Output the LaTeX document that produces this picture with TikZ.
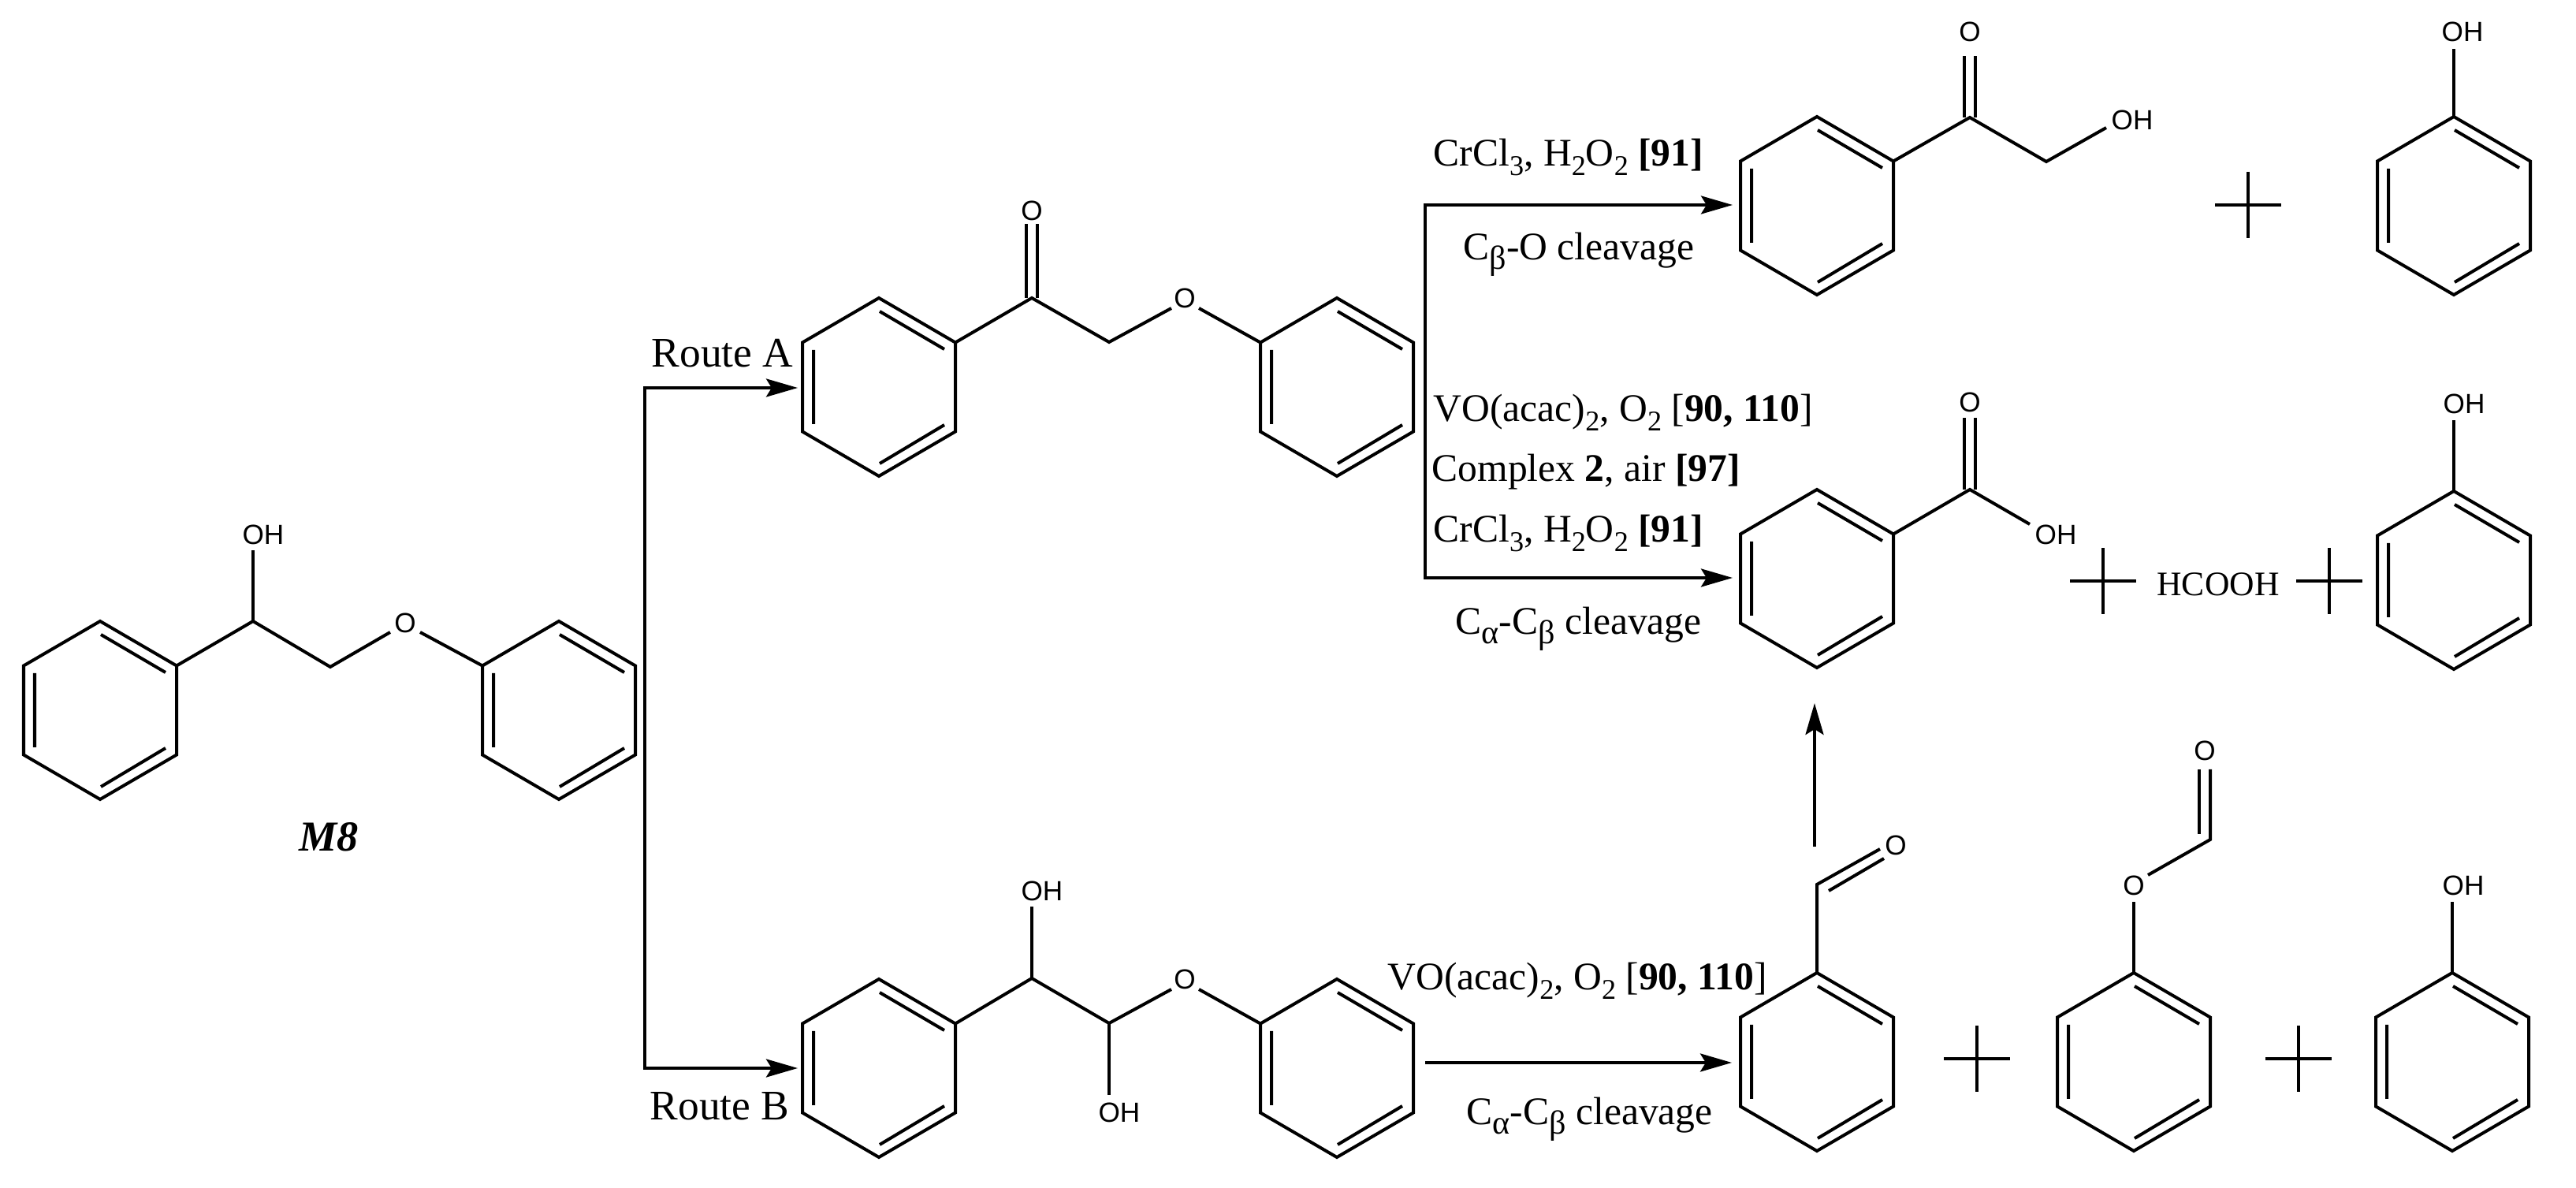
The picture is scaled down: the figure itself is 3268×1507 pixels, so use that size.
\documentclass[tikz,border=0pt]{standalone}
\usepackage{fontspec}
\setmainfont{Liberation Serif}
\setsansfont{Liberation Sans}
\usetikzlibrary{arrows.meta,calc}
\newcommand{\sbs}[1]{\raisebox{-0.24em}{\fontsize{10.3}{10}\selectfont #1}}
\newcommand{\sbg}[1]{\raisebox{-0.24em}{\fontsize{12}{10}\selectfont #1}}
\newcommand{\ringat}[3]{%
  \begin{scope}[shift={(#2,#3)}]
    \coordinate (#1t) at (0,-113);
    \coordinate (#1ur) at (97,-56.5);
    \coordinate (#1lr) at (97,56.5);
    \coordinate (#1b) at (0,113);
    \coordinate (#1ll) at (-97,56.5);
    \coordinate (#1ul) at (-97,-56.5);
    \draw[bond] (#1t) -- (#1ur) -- (#1lr) -- (#1b) -- (#1ll) -- (#1ul) -- cycle;
    \draw[bond] (1,-96) -- (83,-48) (83,48) -- (1,97) (-83,-47) -- (-83,47);
  \end{scope}}
\tikzset{
  x=0.01cm,y=-0.01cm,
  bond/.style={line width=0.04cm,line join=miter,line cap=butt,black},
  flow/.style={line width=0.037cm,black,-{Stealth[length=0.4cm,width=0.23cm,inset=0.07cm]}},
  plusline/.style={line width=0.034cm,black},
  atom/.style={font=\sffamily\fontsize{10}{12}\selectfont,inner sep=0pt,anchor=center},
  rxn/.style={font=\rmfamily\fontsize{14.1}{16}\selectfont,inner sep=0pt,anchor=base west},
  routetext/.style={rxn,font=\rmfamily\fontsize{15.2}{17}\selectfont},
}
\begin{document}
\begin{tikzpicture}
\useasboundingbox (0,0) rectangle (3268,1507);
\fill[white] (0,0) rectangle (3268,1507);

% --- M8
\ringat{ma}{127}{901}
\ringat{mb}{709}{901}
\coordinate (mch) at (321,788);
\coordinate (mcc) at (419,846);
\node[atom] (moh) at (334,678) {OH};
\node[atom] (mo) at (514,790) {O};
\coordinate (moL) at (495,802);
\coordinate (moR) at (533,802);
\coordinate (mohB) at (321,698);
\draw[bond] (maur) -- (mch) -- (mcc) -- (moL);
\draw[bond] (moR) -- (mbul);
\draw[bond] (mch) -- (mohB);
\node[rxn,font=\rmfamily\bfseries\itshape\fontsize{15.4}{17}\selectfont,anchor=center] (m8) at (417,1062) {M8};

% --- Route lines
\coordinate (ra) at (818,492);
\coordinate (rb) at (818,1355);
\coordinate (raEnd) at (1012,492);
\coordinate (rbEnd) at (1012,1355);
\draw[flow] (ra) -- (raEnd);
\draw[flow] (rb) -- (rbEnd);
\draw[line width=0.037cm,line cap=rect] (ra) -- (rb);
\node[routetext] (routeA) at (826,466) {Route A};
\node[routetext] (routeB) at (824,1421) {Route B};

% --- Route A ketone
\ringat{ka}{1115}{491}
\ringat{kb}{1696}{491}
\coordinate (kc) at (1309,378);
\coordinate (kcc) at (1407,434);
\node[atom] (ko) at (1503,378) {O};
\node[atom] (koo) at (1309,267) {O};
\coordinate (koL) at (1486,391);
\coordinate (koR) at (1521,391);
\draw[bond] (kaur) -- (kc) -- (kcc) -- (koL);
\draw[bond] (koR) -- (kbul);
\draw[bond] ($(kc)+(-7,0)$) -- ++(0,-94);
\draw[bond] ($(kc)+(7,0)$) -- ++(0,-94);

% --- Route B diol
\ringat{da}{1115}{1355}
\ringat{db}{1696}{1355}
\coordinate (dc) at (1309,1241);
\coordinate (dd) at (1407,1298);
\node[atom] (doh) at (1322,1130) {OH};
\node[atom] (dohb) at (1420,1411) {OH};
\node[atom] (do) at (1503,1242) {O};
\coordinate (doL) at (1486,1255);
\coordinate (doR) at (1521,1255);
\draw[bond] (daur) -- (dc) -- (dd) -- (doL);
\draw[bond] (doR) -- (dbul);
\draw[bond] (dc) -- (1309,1150);
\draw[bond] (dd) -- (1407,1389);

% --- Branch arrows
\coordinate (bTop) at (1808,260);
\coordinate (bBot) at (1808,733);
\coordinate (bTopEnd) at (2198,260);
\coordinate (bBotEnd) at (2198,733);
\draw[line width=0.037cm,line cap=rect] (bTop) -- (bBot);
\draw[flow] (bTop) -- (bTopEnd);
\draw[flow] (bBot) -- (bBotEnd);
\coordinate (lowS) at (1808,1348);
\coordinate (lowE) at (2197,1348);
\draw[flow] (lowS) -- (lowE);
\coordinate (upS) at (2302,1074);
\coordinate (upE) at (2302,892);
\draw[flow] (upS) -- (upE);

% --- Labels
\node[rxn] (t1) at (1818,211) {CrCl\sbs{3}, H\sbs{2}O\sbs{2} \textbf{[91]}};
\node[rxn] (t2) at (1856,330) {C\sbg{β}-O cleavage};
\node[rxn] (t3) at (1818,535) {VO(acac)\sbs{2}, O\sbs{2} [\textbf{90, 110}]};
\node[rxn] (t4) at (1816,611) {Complex \textbf{2}, air \textbf{[97]}};
\node[rxn] (t5) at (1818,688) {CrCl\sbs{3}, H\sbs{2}O\sbs{2} \textbf{[91]}};
\node[rxn] (t6) at (1846,805) {C\sbg{α}-C\sbg{β} cleavage};
\node[rxn] (t7) at (1760,1256) {VO(acac)\sbs{2}, O\sbs{2} [\textbf{90, 110}]};
\node[rxn] (t8) at (1860,1427) {C\sbg{α}-C\sbg{β} cleavage};

% --- Product row 1
\ringat{pa}{2305}{261}
\coordinate (pc) at (2499,149);
\coordinate (pcc) at (2596,205);
\node[atom] (po) at (2499,40) {O};
\node[atom] (poh) at (2705,152) {OH};
\coordinate (pohE) at (2672,162);
\draw[bond] (paur) -- (pc) -- (pcc) -- (pohE);
\draw[bond] ($(pc)+(-7,0)$) -- ++(0,-78);
\draw[bond] ($(pc)+(7,0)$) -- ++(0,-78);
\coordinate (pl1h) at (2852,260);
\draw[plusline] ($(pl1h)+(-42,0)$) -- ++(84,0) ($(pl1h)+(0,-42)$) -- ++(0,84);
\ringat{pb}{3113}{261}
\node[atom] (pboh) at (3124,40) {OH};
\draw[bond] (pbt) -- (3113,62);

% --- Product row 2
\ringat{qa}{2305}{734}
\coordinate (qc) at (2499,621);
\node[atom] (qo) at (2499,510) {O};
\node[atom] (qoh) at (2608,678) {OH};
\coordinate (qohE) at (2575,665);
\draw[bond] (qaur) -- (qc) -- (qohE);
\draw[bond] ($(qc)+(-7,0)$) -- ++(0,-91);
\draw[bond] ($(qc)+(7,0)$) -- ++(0,-91);
\coordinate (pl2) at (2668,737);
\draw[plusline] ($(pl2)+(-42,0)$) -- ++(84,0) ($(pl2)+(0,-42)$) -- ++(0,84);
\node[atom,font=\rmfamily\fontsize{12.4}{14}\selectfont] (hcooh) at (2814,741) {HCOOH};
\coordinate (pl3) at (2955,737);
\draw[plusline] ($(pl3)+(-42,0)$) -- ++(84,0) ($(pl3)+(0,-42)$) -- ++(0,84);
\ringat{qb}{3113}{736}
\node[atom] (qboh) at (3126,512) {OH};
\draw[bond] (qbt) -- (3113,533);

% --- Product row 3
\ringat{ra}{2305}{1347}
\coordinate (rc) at (2305,1122);
\node[atom] (ro) at (2405,1072) {O};
\draw[bond] (rat) -- (rc) -- (2385,1077);
\draw[bond] (2320,1130) -- (2390,1089);
\coordinate (pl4) at (2508,1343);
\draw[plusline] ($(pl4)+(-42,0)$) -- ++(84,0) ($(pl4)+(0,-42)$) -- ++(0,84);
\ringat{rf}{2707}{1347}
\node[atom] (fo) at (2707,1123) {O};
\coordinate (fc) at (2804,1065);
\node[atom] (foo) at (2797,952) {O};
\draw[bond] (rft) -- (2707,1144);
\draw[bond] (2725,1110) -- (fc) -- (2804,976);
\draw[bond] (2790,1058) -- (2790,976);
\coordinate (pl5) at (2916,1343);
\draw[plusline] ($(pl5)+(-42,0)$) -- ++(84,0) ($(pl5)+(0,-42)$) -- ++(0,84);
\ringat{rp}{3111}{1347}
\node[atom] (rpoh) at (3125,1123) {OH};
\draw[bond] (rpt) -- (3111,1144);
\end{tikzpicture}
\end{document}
